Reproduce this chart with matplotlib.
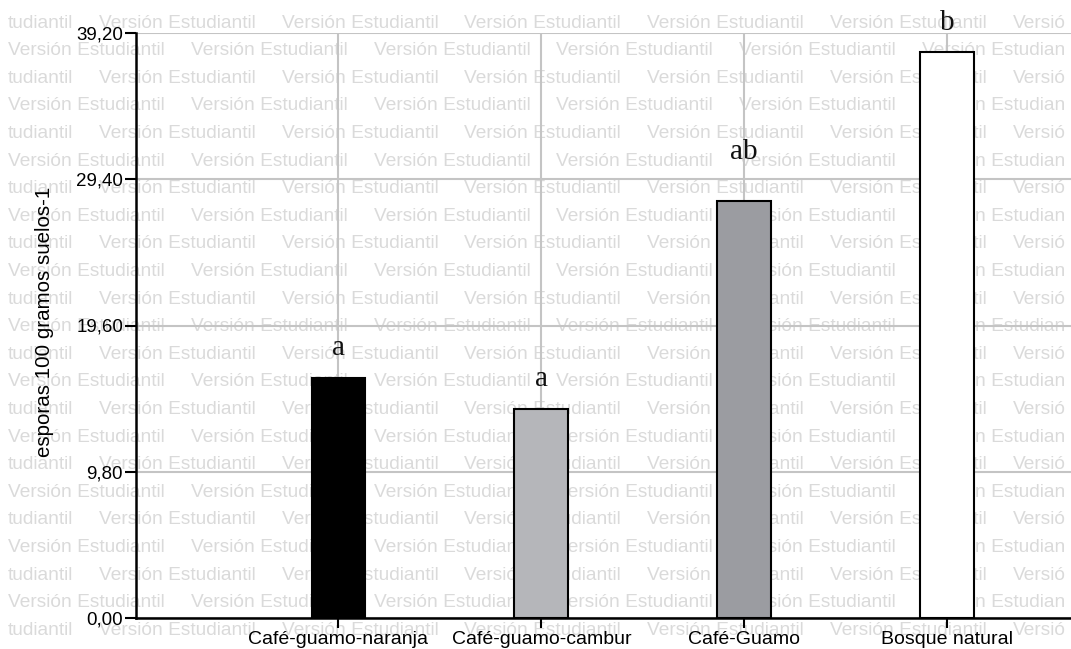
import matplotlib
matplotlib.use("Agg")
import matplotlib.pyplot as plt
from matplotlib.textpath import TextPath
from matplotlib.font_manager import FontProperties
import numpy as np

categories = ["Café-guamo-naranja", "Café-guamo-cambur", "Café-Guamo", "Bosque natural"]
values = [16.10, 13.98, 27.94, 37.95]
letters = ["a", "a", "ab", "b"]
letter_y = [18.1, 16.0, 31.2, 39.9]
bar_colors = ["#000000", "#b5b6ba", "#9b9ca1", "#ffffff"]
yticks = [0.0, 9.8, 19.6, 29.4, 39.2]
ytick_labels = ["0,00", "9,80", "19,60", "29,40", "39,20"]
ylabel = "esporas 100 gramos suelos-1"
watermark = "Versión Estudiantil"

W, H = 1071, 649
fig = plt.figure(figsize=(W / 100, H / 100), dpi=100)
fig.patch.set_facecolor("white")

# watermark background (partial words at the edges, as in the reference)
wm_size = 13.8
fp = FontProperties(family="Liberation Sans", size=wm_size * 100 / 72)


def width_px(s):
    if not s:
        return 0.0
    return TextPath((0, 0), s, prop=fp).get_extents().x1


full_w = width_px(watermark)
row_step = 27.6
period = 182.8
for r in range(23):
    y = 23 + r * row_step
    x0 = -84 if r % 2 == 0 else 8
    for k in range(-1, 8):
        xs = x0 + k * period
        txt = watermark
        xpos = xs
        if xs + full_w <= 2 or xs >= W - 4:
            continue
        if xs < 2:
            for i in range(1, len(watermark)):
                suf = watermark[i:]
                if suf.startswith(" "):
                    continue
                xp = xs + full_w - width_px(suf)
                if xp >= 2:
                    txt, xpos = suf, xp
                    break
        if xpos + width_px(txt) > W - 2:
            for j in range(len(txt) - 1, 0, -1):
                pre = txt[:j].rstrip()
                if xpos + width_px(pre) <= W - 2:
                    txt = pre
                    break
        fig.text(xpos / W, 1 - y / H, txt, fontsize=wm_size, family="Liberation Sans",
                 color="#dadada", ha="left", va="center", zorder=-5)

ax = fig.add_axes([135.5 / W, 1 - 618 / H, (W - 135.5) / W, (618 - 33) / H])
ax.patch.set_alpha(0)
x = np.arange(1, len(categories) + 1)
ax.set_axisbelow(True)
ax.grid(True, color="#c4c4c4", linewidth=1.5)
ax.bar(x, values, width=0.265, color=bar_colors, edgecolor="black", linewidth=1.5, zorder=3)
for xi, lt, ly in zip(x, letters, letter_y):
    ax.text(xi, ly, lt, ha="center", va="center", fontsize=21, family="Liberation Serif",
            color="#111111", clip_on=False, zorder=4)

ax.set_xlim(0, 4.61)
ax.set_ylim(0, 39.2)
ax.set_yticks(yticks)
ax.set_yticklabels(ytick_labels, fontsize=13.5, family="Liberation Sans")
ax.set_xticks(x)
ax.set_xticklabels(categories, fontsize=14, family="Liberation Sans")
ax.tick_params(axis="y", length=8, width=1.5, pad=1)
ax.tick_params(axis="x", length=7, width=1.5, pad=2)
for s in ["top", "right"]:
    ax.spines[s].set_visible(False)
for s in ["left", "bottom"]:
    ax.spines[s].set_linewidth(1.8)
fig.text(45 / W, 1 - 322 / H, ylabel, rotation=90, ha="center", va="center",
         fontsize=14.8, family="Liberation Sans")

fig.savefig("out.png", dpi=100)
